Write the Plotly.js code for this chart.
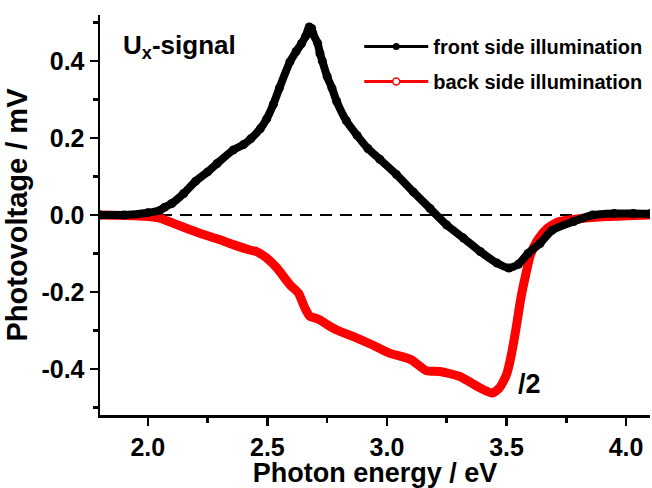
<!DOCTYPE html>
<html>
<head>
<meta charset="utf-8">
<script src="https://cdn.plot.ly/plotly-3.0.1.min.js"></script>
<style>html,body{margin:0;padding:0;background:#fff;}#chart{width:652px;height:488px;}</style>
</head>
<body>
<div id="chart"></div>
<script>
// Front side illumination (black, filled circles)
var frontE = [1.80,1.90,2.00,2.05,2.07,2.10,2.15,2.20,2.25,2.29,2.357,2.40,2.43,2.47,2.497,2.525,2.55,2.594,2.62,2.643,2.66,2.675,2.685,2.69,2.71,2.72,2.73,2.75,2.77,2.79,2.83,2.875,2.92,2.97,3.04,3.11,3.18,3.25,3.32,3.39,3.46,3.51,3.55,3.59,3.64,3.69,3.78,3.86,3.95,4.03,4.10];
var frontV = [0.0,0.0,0.006,0.012,0.02,0.03,0.056,0.088,0.112,0.134,0.169,0.183,0.198,0.224,0.25,0.288,0.33,0.398,0.425,0.446,0.465,0.489,0.485,0.472,0.447,0.42,0.40,0.36,0.33,0.295,0.245,0.207,0.173,0.145,0.105,0.06,0.017,-0.026,-0.06,-0.095,-0.125,-0.138,-0.128,-0.10,-0.074,-0.04,-0.017,0.0,0.004,0.004,0.003];
// Back side illumination (red, open circles), divided by 2
var backE = [1.80,1.95,2.05,2.08,2.15,2.22,2.29,2.357,2.427,2.455,2.497,2.54,2.595,2.63,2.657,2.678,2.70,2.72,2.75,2.79,2.86,2.94,3.01,3.10,3.166,3.22,3.305,3.39,3.44,3.47,3.50,3.52,3.54,3.56,3.58,3.60,3.63,3.67,3.72,3.81,3.92,4.10];
var backV = [0,-0.002,-0.008,-0.015,-0.032,-0.048,-0.062,-0.077,-0.091,-0.095,-0.112,-0.138,-0.182,-0.203,-0.242,-0.264,-0.268,-0.273,-0.285,-0.299,-0.316,-0.338,-0.359,-0.376,-0.405,-0.407,-0.42,-0.45,-0.463,-0.45,-0.415,-0.364,-0.294,-0.216,-0.156,-0.104,-0.065,-0.035,-0.017,-0.009,-0.004,0];
// Zero reference line
var zeroE = [1.80, 4.10];
var zeroV = [0, 0];
// Tick labels
var xTickVals = [2.0, 2.5, 3.0, 3.5, 4.0];
var xTickText = ["2.0", "2.5", "3.0", "3.5", "4.0"];
var yTickVals = [-0.4, -0.2, 0.0, 0.2, 0.4];
var yTickText = ["-0.4", "-0.2", "0.0", "0.2", "0.4"];
var seriesNames = ["front side illumination", "back side illumination"];

var FONT = "Liberation Sans, Arial, Helvetica, sans-serif";

var traces = [
  {x: zeroE, y: zeroV, mode: "lines", line: {color: "#000", width: 2, dash: "12px,8px"}, showlegend: false, hoverinfo: "skip"},
  {x: backE, y: backV, mode: "lines", line: {color: "#ff0000", width: 9, shape: "spline", smoothing: 0.6}, showlegend: false},
  {x: frontE, y: frontV, mode: "lines+markers", line: {color: "#000", width: 8, shape: "spline", smoothing: 0.6},
   marker: {color: "#000", size: 9, symbol: "circle"}, showlegend: false},
  // legend entries
  {x: [null], y: [null], mode: "lines+markers", name: seriesNames[0], legendgroup: "a",
   line: {color: "#000", width: 3}, marker: {color: "#000", size: 7, symbol: "circle"}},
  {x: [null], y: [null], mode: "lines+markers", name: seriesNames[1], legendgroup: "b",
   line: {color: "#ff0000", width: 3}, marker: {color: "#fff", size: 7, symbol: "circle", line: {color: "#ff0000", width: 1.5}}}
];

var layout = {
  width: 652, height: 488,
  margin: {l: 100, r: 2, t: 15, b: 73},
  paper_bgcolor: "#fff", plot_bgcolor: "#fff",
  font: {family: FONT, size: 20, color: "#000", weight: "bold"},
  showlegend: true,
  legend: {x: 0.995, xanchor: "right", y: 0.97, yanchor: "top", bgcolor: "rgba(0,0,0,0)",
           font: {family: FONT, size: 20, color: "#000", weight: "bold"}, itemwidth: 64, tracegroupgap: 6, traceorder: "grouped"},
  xaxis: {
    range: [1.8, 4.1], showgrid: false, zeroline: false,
    showline: true, linecolor: "#000", linewidth: 2.5, mirror: false,
    ticks: "outside", ticklen: 8, tickwidth: 2.5, tickcolor: "#000",
    tickmode: "array", tickvals: xTickVals, ticktext: xTickText,
    tickfont: {family: FONT, size: 25, color: "#000", weight: "bold"},
    minor: {dtick: 0.25, tick0: 2.0, ticks: "outside", ticklen: 5, tickwidth: 2.5, tickcolor: "#000", showgrid: false},
    title: {text: "Photon energy / eV", font: {family: FONT, size: 27, color: "#000", weight: "bold"}, standoff: 6}
  },
  yaxis: {
    range: [-0.52, 0.52], showgrid: false, zeroline: false,
    showline: true, linecolor: "#000", linewidth: 2.5, mirror: false,
    ticks: "outside", ticklen: 8, tickwidth: 2.5, tickcolor: "#000",
    tickmode: "array", tickvals: yTickVals, ticktext: yTickText,
    tickfont: {family: FONT, size: 25, color: "#000", weight: "bold"},
    minor: {dtick: 0.1, tick0: 0.1, ticks: "outside", ticklen: 5, tickwidth: 2.5, tickcolor: "#000", showgrid: false},
    title: {text: "Photovoltage / mV", font: {family: FONT, size: 29, color: "#000", weight: "bold"}, standoff: 6}
  },
  annotations: [
    {xref: "paper", yref: "paper", x: 0.038, y: 0.92, xanchor: "left", yanchor: "middle", showarrow: false,
     text: "U<sub>x</sub>-signal", font: {family: FONT, size: 26, color: "#000", weight: "bold"}},
    {xref: "x", yref: "y", x: 3.595, y: -0.44, xanchor: "center", yanchor: "middle", showarrow: false,
     text: "/2", font: {family: FONT, size: 27, color: "#000", weight: "bold"}}
  ]
};

Plotly.newPlot("chart", traces, layout, {displayModeBar: false, staticPlot: true});
</script>
</body>
</html>
